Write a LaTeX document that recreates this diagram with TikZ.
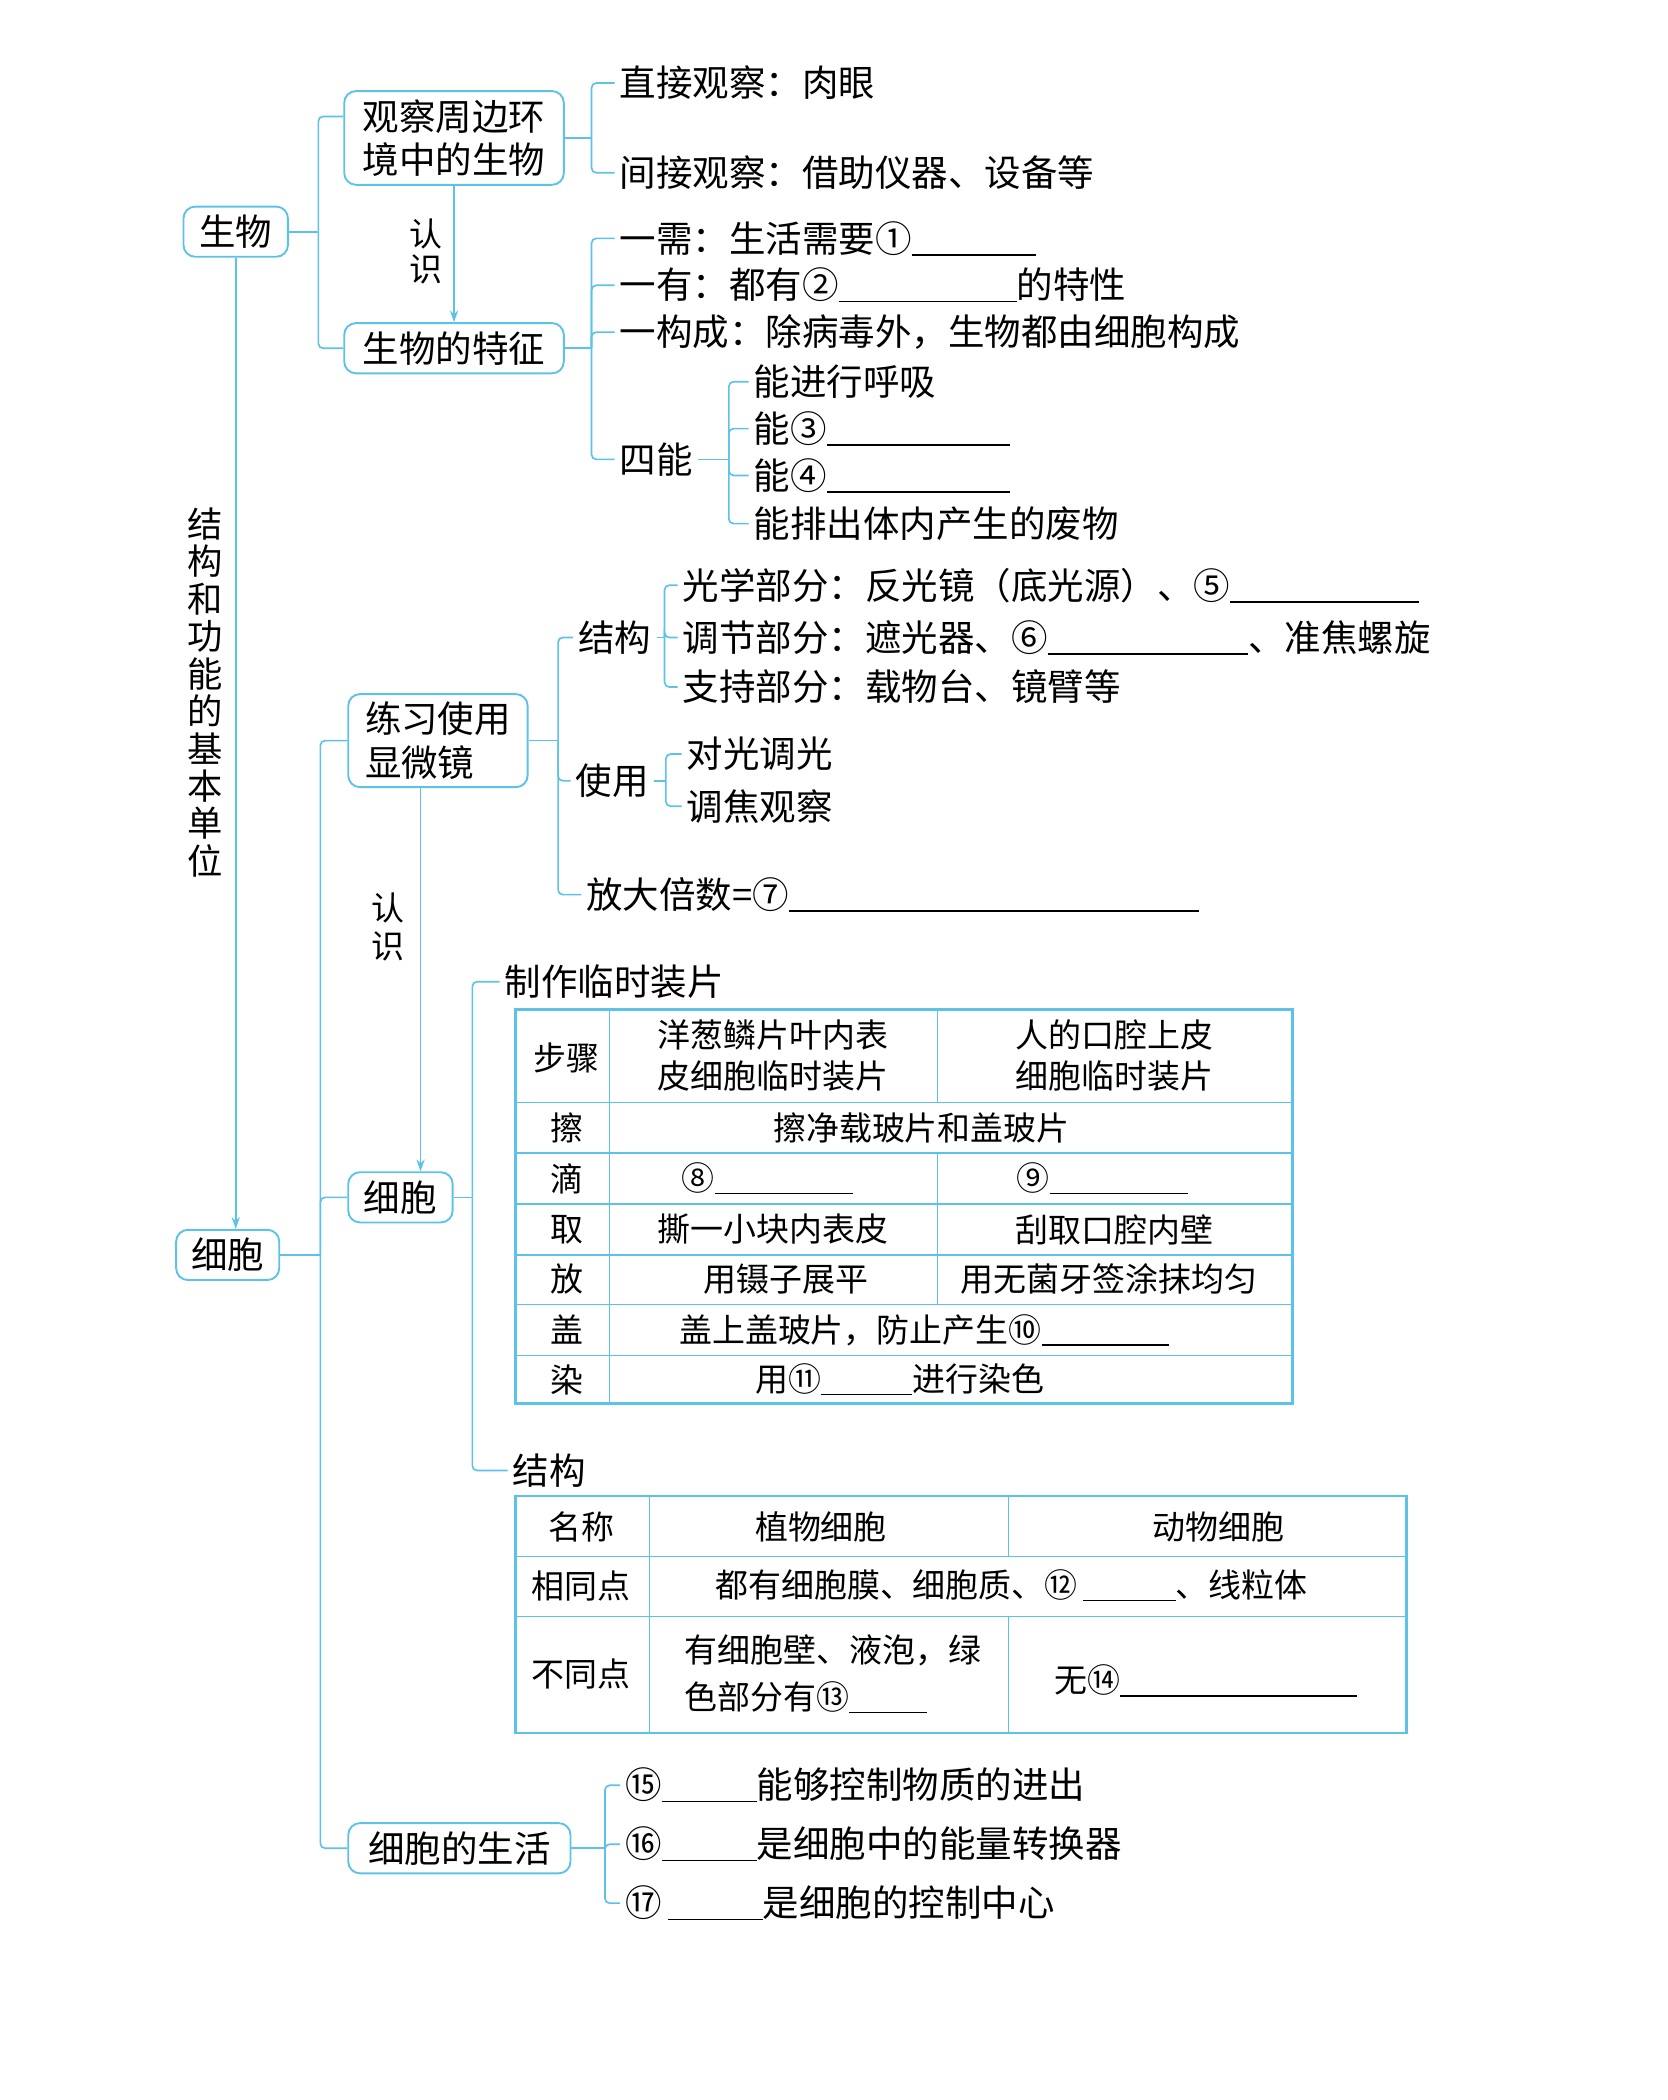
\documentclass[tikz,border=0pt]{standalone}
\usepackage{fontspec}
\setmainfont{Noto Sans CJK SC}
\usetikzlibrary{calc,arrows.meta}
\definecolor{mapblue}{RGB}{92,194,232}
\newcommand{\blank}[1]{\rule[-1.5pt]{#1}{0.6pt}}
\tikzset{
  link/.style={draw=mapblue, line width=0.7pt, rounded corners=2pt},
  arr/.style={draw=mapblue, line width=0.7pt, -{Stealth[length=5pt,width=3.5pt]}},
  topic/.style={draw=mapblue, line width=0.8pt, rounded corners=5pt, inner xsep=6pt,
    minimum height=0.75cm, font=\fontsize{15.5}{18.5}\selectfont},
  txt/.style={anchor=west, inner sep=2pt, font=\fontsize{15.5}{18.5}\selectfont},
  cell/.style={inner sep=1pt, font=\fontsize{14}{17.6}\selectfont},
  tbl/.style={draw=mapblue, line width=0.6pt},
  tblout/.style={draw=mapblue, line width=1.2pt},
}
\begin{document}
\begin{tikzpicture}[x=0.02cm, y=-0.02cm]
    \useasboundingbox (0,0) rectangle (1245,1568);

    % main column
    \node[topic, minimum width=1.56cm] (sw) at (176,173) {生物};
    \node[topic, minimum width=1.54cm] (xb) at (170,937) {细胞};
    \node[align=center, font=\fontsize{15}{15.9}\selectfont] (dy) at (153,517)
        {结\\构\\和\\功\\能\\的\\基\\本\\单\\位};
    \draw[arr] (sw.south) -- (sw.south |- xb.north);

    % 生物
    \node[topic, minimum width=3.28cm, minimum height=1.4cm, align=center] (gc) at (339,103)
        {观察周边环\\境中的生物};
    \node[topic, minimum width=3.28cm] (tz) at (339,260) {生物的特征};
    \draw[link] (sw.east) -- ++(22,0) coordinate (j1);
    \draw[link] (j1) |- ([yshift=0.32cm]gc.west);
    \draw[link] (j1) |- (tz.west);
    \draw[arr] (gc.south) -- (tz.north);
    \node[align=center, font=\fontsize{14}{15}\selectfont] (rs1) at (318,188) {认\\识};

    \node[txt] (zj) at (459,62) {直接观察：肉眼};
    \node[txt] (jj) at (459,129) {间接观察：借助仪器、设备等};
    \draw[link] (gc.east) -- ++(20,0) coordinate (j2);
    \foreach \n in {zj,jj} \draw[link] (j2) |- (\n.west);

    \node[txt] (yx) at (459,178) {一需：生活需要①\blank{1.86cm}};
    \node[txt] (yy) at (459,213) {一有：都有②\blank{2.66cm}的特性};
    \node[txt] (yg) at (459,248) {一构成：除病毒外，生物都由细胞构成};
    \node[txt] (sn) at (459,343) {四能};
    \draw[link] (tz.east) -- ++(20,0) coordinate (j3);
    \foreach \n in {yx,yy,yg,sn} \draw[link] (j3) |- (\n.west);

    \node[txt] (n1) at (559,285) {能进行呼吸};
    \node[txt] (n2) at (559,320) {能③\blank{2.74cm}};
    \node[txt] (n3) at (559,355) {能④\blank{2.74cm}};
    \node[txt] (n4) at (559,391) {能排出体内产生的废物};
    \draw[link] (sn.east) -- ++(23,0) coordinate (j4);
    \foreach \n in {n1,n2,n3,n4} \draw[link] (j4) |- (\n.west);

    % 细胞
    \node[topic, minimum width=2.68cm, minimum height=1.34cm, align=left] (lx) at (327,553)
        {练习使用\\显微镜};
    \node[topic, minimum width=1.56cm] (xb2) at (299,894) {细胞};
    \node[topic, minimum width=3.32cm] (sh) at (343,1380) {细胞的生活};
    \draw[link] (xb.east) -- ++(30,0) coordinate (j5);
    \foreach \n in {lx,xb2,sh} \draw[link] (j5) |- (\n.west);

    \node[txt] (jg) at (428,476) {结构};
    \node[txt] (sy) at (426,583) {使用};
    \node[txt] (fd) at (434,668) {放大倍数=⑦\blank{6.12cm}};
    \draw[link] (lx.east) -- ++(22,0) coordinate (j6);
    \foreach \n in {jg,sy,fd} \draw[link] (j6) |- (\n.west);

    \node[txt] (gx) at (506,437) {光学部分：反光镜（底光源）、⑤\blank{2.82cm}};
    \node[txt] (tj) at (506,476) {调节部分：遮光器、⑥\blank{3.0cm}、准焦螺旋};
    \node[txt] (zc) at (506,513) {支持部分：载物台、镜臂等};
    \draw[link] (jg.east) -- ++(6,0) coordinate (j7);
    \foreach \n in {gx,tj,zc} \draw[link] (j7) |- (\n.west);

    \node[txt] (dg) at (509,563) {对光调光};
    \node[txt] (tg) at (509,602) {调焦观察};
    \draw[link] (sy.east) -- ++(9,0) coordinate (j8);
    \foreach \n in {dg,tg} \draw[link] (j8) |- (\n.west);

    \draw[arr] ([xshift=-0.26cm]lx.south) -- ([xshift=-0.26cm]lx.south |- xb2.north);
    \node[align=center, font=\fontsize{14}{15.9}\selectfont] (rs2) at (290,692) {认\\识};

    \node[txt] (zz) at (373,733) {制作临时装片};
    \node[txt] (jg2) at (379,1098) {结构};
    \draw[link] (xb2.east) -- ++(14,0) coordinate (j9);
    \foreach \n in {zz,jg2} \draw[link] (j9) |- (\n.west);

    % 表一
    \draw[tblout] (385,754) rectangle (965,1048);
    \foreach \y in {823,861,899,937,974,1012} \draw[tbl] (385,\y) -- (965,\y);
    \draw[tbl] (455,754) -- (455,1048);
    \draw[tbl] (700,754) -- (700,823);
    \draw[tbl] (700,861) -- (700,974);

    \node[cell] (b0) at (423,790) {步骤};
    \node[cell, align=center] (b1) at (577,788) {洋葱鳞片叶内表\\皮细胞临时装片};
    \node[cell, align=center] (b2) at (832,788) {人的口腔上皮\\细胞临时装片};
    \foreach \y/\t in {842/擦,880/滴,918/取,955/放,993/盖,1030/染}
        \node[cell] (k\y) at (423,\y) {\t};
    \node[cell] (c1) at (688,842) {擦净载玻片和盖玻片};
    \node[cell, anchor=west] (c2) at (507,880) {⑧\blank{2.06cm}};
    \node[cell, anchor=west] (c3) at (757,880) {⑨\blank{2.06cm}};
    \node[cell] (c4) at (577,918) {撕一小块内表皮};
    \node[cell] (c5) at (832,918) {刮取口腔内壁};
    \node[cell] (c6) at (587,955) {用镊子展平};
    \node[cell] (c7) at (828,955) {用无菌牙签涂抹均匀};
    \node[cell, anchor=west] (c8) at (505,993) {盖上盖玻片，防止产生⑩\blank{1.9cm}};
    \node[cell, anchor=west] (c9) at (562,1030) {用⑪\blank{1.36cm}进行染色};

    % 表二
    \draw[tblout] (385,1117) rectangle (1050,1294);
    \draw[tbl] (385,1162) -- (1050,1162);
    \draw[tbl] (385,1207) -- (1050,1207);
    \draw[tbl] (485,1117) -- (485,1294);
    \draw[tbl] (753,1117) -- (753,1162);
    \draw[tbl] (753,1207) -- (753,1294);

    \node[cell] (d0) at (434,1140) {名称};
    \node[cell] (d1) at (613,1140) {植物细胞};
    \node[cell] (d2) at (910,1140) {动物细胞};
    \node[cell] (d3) at (434,1184) {相同点};
    \node[cell, anchor=west] (d4) at (532,1184) {都有细胞膜、细胞质、⑫\,\blank{1.38cm}、线粒体};
    \node[cell] (d5) at (434,1250) {不同点};
    \node[cell, anchor=west, align=left, font=\fontsize{14}{19.8}\selectfont] (d6) at (509,1250)
        {有细胞壁、液泡，绿\\色部分有⑬\blank{1.16cm}};
    \node[cell, anchor=west] (d7) at (785,1255) {无⑭\blank{3.54cm}};

    % 细胞的生活
    \node[txt] (m15) at (463,1333) {⑮\blank{1.42cm}能够控制物质的进出};
    \node[txt] (m16) at (463,1377) {⑯\blank{1.42cm}是细胞中的能量转换器};
    \node[txt] (m17) at (463,1421) {⑰\,\blank{1.42cm}是细胞的控制中心};
    \draw[link] (sh.east) -- ++(25,0) coordinate (j10);
    \foreach \n in {m15,m16,m17} \draw[link] (j10) |- (\n.west);
\end{tikzpicture}
\end{document}
